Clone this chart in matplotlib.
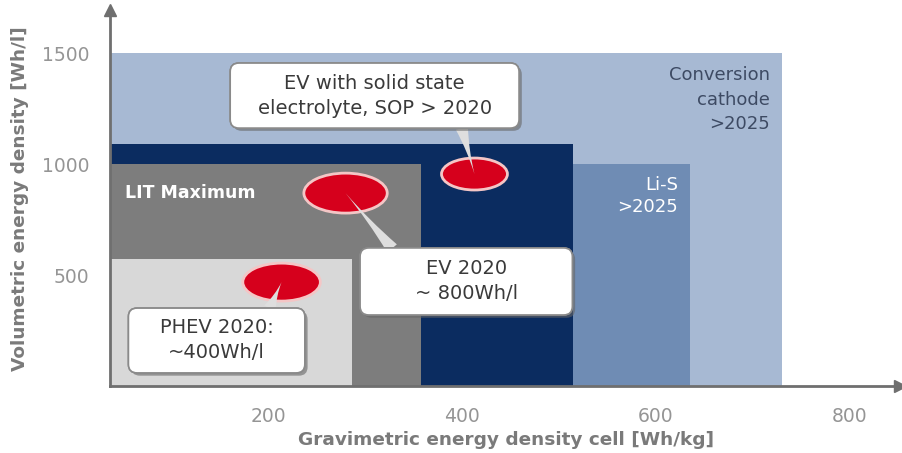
import matplotlib
matplotlib.use("Agg")
import matplotlib.pyplot as plt
import matplotlib.patheffects as pe
from matplotlib.patches import Ellipse, FancyBboxPatch

# regions: right edge in Wh/kg, top in Wh/l (drawn back to front)
region_names = ["Conversion\ncathode\n>2025", "Li-S\n>2025", "EV solid state", "LIT Maximum", "PHEV 2020"]
region_grav = [730, 635, 515, 358, 287]
region_vol = [1500, 1000, 1090, 1000, 570]
region_colors = ["#a7b9d3", "#6f8cb4", "#0b2c60", "#7d7d7d", "#d8d8d8"]

# vehicle targets (red ellipses)
target_labels = ["PHEV 2020:\n~400Wh/l", "EV 2020\n~ 800Wh/l", "EV with solid state\nelectrolyte, SOP > 2020"]
target_grav = [214, 280, 413]
target_vol = [468, 869, 955]

x_ticks = [200, 400, 600, 800]
y_ticks = [500, 1000, 1500]

x_min, x_max = 37, 852
y_min, y_max = 0, 1694

fig = plt.figure(figsize=(9.02, 4.53), dpi=100)
ax = fig.add_axes([110 / 902, 67 / 453, 790 / 902, 376 / 453])
ax.set_xlim(x_min, x_max)
ax.set_ylim(y_min, y_max)
aspect = (y_max - y_min) / 376 / ((x_max - x_min) / 790)

for name, gx, vy, c in zip(region_names, region_grav, region_vol, region_colors):
    ax.bar(x_min, vy, width=gx - x_min, align="edge", color=c, zorder=1)

# region captions
ax.text(region_grav[0] - 12, region_vol[0] - 60, region_names[0], ha="right", va="top",
        fontsize=13, color="#3d4a63", linespacing=1.45, zorder=2)
ax.text(region_grav[1] - 12, region_vol[1] - 55, region_names[1], ha="right", va="top",
        fontsize=13, color="white", linespacing=1.3, zorder=2)
ax.text(x_min + 15, region_vol[3] - 130, region_names[3], ha="left", va="center",
        fontsize=12.5, color="white", fontweight="semibold", zorder=2)

# red ellipses
ell_w = [80, 86, 68]
ell_h = [171, 180, 144]
for gx, vy, w, h in zip(target_grav, target_vol, ell_w, ell_h):
    ax.add_patch(Ellipse((gx, vy), w, h, facecolor="#d6001c", edgecolor="#f4c6c6",
                         linewidth=2, zorder=3))

# callout boxes (x0, y0, x1, y1) and the point where the pointer leaves the box
boxes = [(56, 59, 238, 351), (295, 320, 514, 622), (161, 1162, 459, 1455)]
tails = [(202, 351), (328, 620), (400, 1162)]
for label, gx, vy, (x0, y0, x1, y1), tail in zip(target_labels, target_grav, target_vol, boxes, tails):
    ax.annotate("", xy=(gx, vy), xytext=tail, zorder=4,
                arrowprops=dict(arrowstyle="wedge,tail_width=0.9,shrink_factor=0.3",
                                fc="#dedede", ec="none", shrinkA=0, shrinkB=0))
    box = FancyBboxPatch((x0, y0), x1 - x0, y1 - y0,
                         boxstyle="round,pad=0,rounding_size=9", mutation_aspect=aspect,
                         fc="white", ec="#8a8a8a", lw=1.2, zorder=5)
    box.set_path_effects([pe.withSimplePatchShadow(offset=(2, -2), shadow_rgbFace="#666666", alpha=0.6),
                          pe.Normal()])
    ax.add_patch(box)
    ax.text((x0 + x1) / 2, (y0 + y1) / 2, label, ha="center", va="center",
            fontsize=14, color="#3a3a3a", linespacing=1.4, zorder=6)

# axes styling
for s in ["top", "right"]:
    ax.spines[s].set_visible(False)
for s in ["left", "bottom"]:
    ax.spines[s].set_color("#6f6f6f")
    ax.spines[s].set_linewidth(2)
    ax.spines[s].set_zorder(7)
ax.plot(1, 0, ">", color="#6f6f6f", markersize=8, transform=ax.transAxes, clip_on=False, zorder=8)
ax.plot(0, 1, "^", color="#6f6f6f", markersize=8, transform=ax.transAxes, clip_on=False, zorder=8)

ax.set_xticks(x_ticks)
ax.set_yticks(y_ticks)
ax.tick_params(length=0, labelsize=13.5, labelcolor="#959595")
ax.tick_params(axis="x", pad=15)
ax.tick_params(axis="y", pad=15)

fig.text(506 / 902, 1 - 440 / 453, "Gravimetric energy density cell [Wh/kg]", ha="center",
         va="center", fontsize=13.3, fontweight="bold", color="#7a7a7a")
fig.text(20 / 902, 1 - 199 / 453, "Volumetric energy density [Wh/l]", ha="center",
         va="center", rotation=90, fontsize=13.3, fontweight="bold", color="#7a7a7a")

fig.savefig("out.png", dpi=100)
